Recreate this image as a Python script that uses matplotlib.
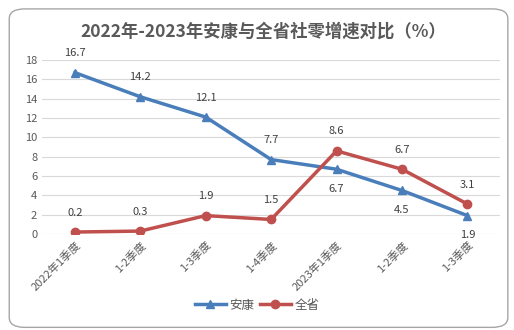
import matplotlib.pyplot as plt
from matplotlib.patches import FancyBboxPatch

plt.rcParams['font.family'] = ['Noto Sans CJK SC', 'DejaVu Sans']

# data
quarters = ['2022年1季度', '1-2季度', '1-3季度', '1-4季度', '2023年1季度', '1-2季度', '1-3季度']
ankang = [16.7, 14.2, 12.1, 7.7, 6.7, 4.5, 1.9]
province = [0.2, 0.3, 1.9, 1.5, 8.6, 6.7, 3.1]
# label above (+1) or below (-1) the point
ankang_side = [1, 1, 1, 1, -1, -1, -1]

blue = '#4a7ebb'
red = '#c0504d'
txt = '#595959'

fig = plt.figure(figsize=(5.14, 3.30), dpi=100)
ax = fig.add_axes([0.082, 0.291, 0.891, 0.527])

# rounded border
border = FancyBboxPatch((0.018, 0.008), 0.97, 0.965, boxstyle='round,pad=0,rounding_size=0.03',
                        transform=fig.transFigure, fill=False, edgecolor='#a6a6a6', linewidth=1.0)
fig.patches.append(border)

x = list(range(len(quarters)))
ax.plot(x, ankang, color=blue, linewidth=2.5, marker='^', markersize=6, label='安康')
ax.plot(x, province, color=red, linewidth=2.5, marker='o', markersize=6, label='全省')

for i, v in enumerate(ankang):
    ax.annotate(f'{v}', (i, v), xytext=(0, 14 * ankang_side[i]), textcoords='offset points',
                ha='center', va='center', fontsize=8, color='#404040')
for i, v in enumerate(province):
    ax.annotate(f'{v}', (i, v), xytext=(0, 14), textcoords='offset points',
                ha='center', va='center', fontsize=8, color='#404040')

ax.set_xlim(-0.5, len(quarters) - 0.5)
ax.set_ylim(0, 18)
ax.set_yticks(range(0, 19, 2))
ax.set_xticks(x)
ax.set_xticklabels(quarters, rotation=45, ha='right', rotation_mode='anchor')
ax.tick_params(axis='both', length=0, labelsize=8, colors=txt)
ax.tick_params(axis='x', pad=4)
ax.grid(axis='y', color='#d9d9d9', linewidth=0.8)
ax.set_axisbelow(True)
for s in ax.spines.values():
    s.set_visible(False)

fig.text(0.513, 0.905, '2022年-2023年安康与全省社零增速对比（%）', ha='center', va='center',
         fontsize=12.5, fontweight='bold', color=txt)

fig.legend(loc='center', bbox_to_anchor=(0.5, 0.075), ncol=2, frameon=False, fontsize=9,
           handlelength=2.5, columnspacing=0.4, handletextpad=0.3, labelcolor=txt)

fig.savefig('out.png', dpi=100)
